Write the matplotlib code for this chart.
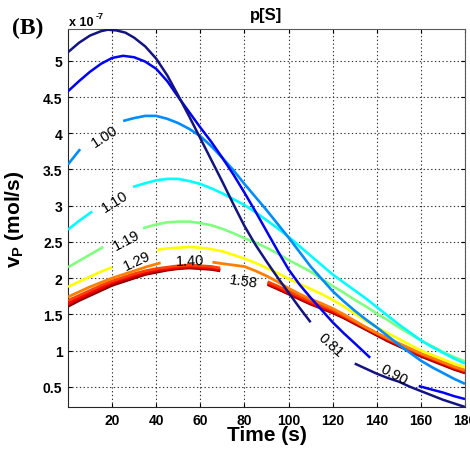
import numpy as np
import matplotlib
matplotlib.use("Agg")
import matplotlib.pyplot as plt

plt.rcParams['font.family'] = ['Liberation Sans', 'DejaVu Sans']
plt.rcParams['mathtext.fontset'] = 'custom'
plt.rcParams['mathtext.bf'] = 'Liberation Sans:bold'
plt.rcParams['mathtext.rm'] = 'Liberation Sans'
plt.rcParams['mathtext.it'] = 'Liberation Sans:italic'

nan = np.nan
# ---- data (v_P in units of 1e-7 mol/s); NaN marks the gap left for a contour label
levels = ['0.81', '0.90', '1.00', '1.10', '1.19', '1.29', '1.40', '1.49', '1.58', '1.68', '1.80']

t_081 = [0, 5, 10, 15, 18, 22, 26, 30, 35, 40, 45, 50, 55, 60, 65, 70, 75, 80, 85, 90, 95, 100, 105, 110,
         120, 130, 135, 140, 145, 150, 155, 160, 165, 170, 175, 180]
v_081 = [5.12, 5.25, 5.35, 5.41, 5.43, 5.42, 5.39, 5.32, 5.20, 5.03, 4.80, 4.52, 4.23, 3.93, 3.63, 3.33, 3.02,
         2.72, 2.46, 2.23, 2.01, 1.80, 1.59, 1.39,
         nan, 0.82, 0.75, 0.68, 0.62, 0.57, 0.50, 0.44, 0.38, 0.32, 0.27, 0.22]

t_090 = [0, 5, 10, 15, 20, 25, 30, 35, 40, 45, 50, 55, 60, 65, 70, 75, 80, 85, 90, 95, 100, 105, 110, 115,
         120, 125, 130, 137, 148, 159, 165, 170, 175, 180]
v_090 = [4.58, 4.72, 4.85, 4.96, 5.04, 5.07, 5.05, 4.99, 4.89, 4.72, 4.50, 4.29, 4.08, 3.88, 3.66, 3.43, 3.18,
         2.92, 2.65, 2.38, 2.12, 1.91, 1.73, 1.56, 1.39, 1.24, 1.10, 0.90, nan, 0.51, 0.46, 0.42, 0.37, 0.33]

t_100 = [0, 5.5, 15, 25, 30, 35, 40, 45, 50, 55, 60, 65, 70, 75, 80, 85, 90, 95, 100, 105, 110, 115, 120,
         125, 130, 135, 140, 145, 150, 155, 160, 165, 170, 175, 180]
v_100 = [3.57, 3.78, nan, 4.17, 4.21, 4.24, 4.24, 4.20, 4.14, 4.06, 3.96, 3.82, 3.66, 3.49, 3.30, 3.12, 2.94,
         2.75, 2.56, 2.36, 2.16, 1.99, 1.82, 1.68, 1.55, 1.43, 1.32, 1.20, 1.08, 0.97, 0.86, 0.77, 0.69,
         0.61, 0.54]

t_110 = [0, 5, 11, 20, 29.5, 35, 40, 45, 50, 55, 60, 65, 70, 75, 80, 85, 90, 95, 100, 105, 110, 115, 120,
         125, 130, 135, 140, 145, 150, 155, 160, 165, 170, 175, 180]
v_110 = [2.67, 2.79, 2.92, nan, 3.26, 3.31, 3.35, 3.37, 3.37, 3.34, 3.30, 3.24, 3.17, 3.09, 3.01, 2.91, 2.80,
         2.69, 2.57, 2.44, 2.31, 2.18, 2.05, 1.94, 1.83, 1.72, 1.60, 1.48, 1.36, 1.25, 1.14, 1.05, 0.97,
         0.89, 0.82]

t_119 = [0, 8, 16, 25, 34, 40, 45, 50, 55, 60, 65, 70, 75, 80, 85, 90, 95, 100, 105, 110, 115, 120, 125,
         130, 135, 140, 145, 150, 155, 160, 165, 170, 175, 180]
v_119 = [2.15, 2.29, 2.43, nan, 2.69, 2.74, 2.77, 2.78, 2.78, 2.76, 2.73, 2.68, 2.62, 2.55, 2.49, 2.42, 2.34,
         2.25, 2.17, 2.09, 1.99, 1.89, 1.80, 1.70, 1.61, 1.51, 1.42, 1.32, 1.23, 1.14, 1.06, 0.98, 0.91,
         0.85]

t_129 = [0, 5, 10, 15, 20, 30, 40.5, 45, 50, 55, 60, 65, 70, 75, 80, 85, 90, 95, 100, 105, 110, 115, 120,
         125, 130, 135, 140, 145, 150, 155, 160, 165, 170, 175, 180]
v_129 = [1.88, 1.95, 2.02, 2.09, 2.15, nan, 2.39, 2.41, 2.42, 2.43, 2.42, 2.40, 2.37, 2.32, 2.27, 2.21, 2.14,
         2.07, 1.99, 1.92, 1.85, 1.78, 1.70, 1.61, 1.51, 1.41, 1.32, 1.24, 1.16, 1.08, 1.00, 0.94, 0.88,
         0.82, 0.77]

t_140 = [0, 5, 10, 15, 20, 25, 30, 36, 42, 55, 65.5, 70, 75, 80, 85, 90, 95, 100, 105, 110, 115, 120, 125,
         130, 135, 140, 145, 150, 155, 160, 165, 170, 175, 180]
v_140 = [1.74, 1.81, 1.88, 1.94, 2.00, 2.05, 2.10, 2.16, 2.21, nan, 2.22, 2.20, 2.18, 2.16, 2.10, 2.03, 1.95,
         1.86, 1.78, 1.71, 1.65, 1.58, 1.50, 1.41, 1.32, 1.24, 1.17, 1.10, 1.03, 0.96, 0.90, 0.84, 0.78,
         0.73]

t_149 = [0, 5, 10, 15, 20, 25, 30, 35, 40, 45, 50, 55, 60, 65, 69, 80, 90.5, 95, 100, 105, 110, 115, 120,
         125, 130, 135, 140, 145, 150, 155, 160, 165, 170, 175, 180]
v_149 = [1.69, 1.76, 1.83, 1.90, 1.96, 2.01, 2.06, 2.10, 2.13, 2.15, 2.17, 2.18, 2.17, 2.16, 2.14, nan, 1.95,
         1.89, 1.82, 1.75, 1.68, 1.62, 1.56, 1.48, 1.40, 1.32, 1.24, 1.16, 1.09, 1.02, 0.95, 0.89, 0.83,
         0.77, 0.72]

t_158 = [0, 5, 10, 15, 20, 25, 30, 35, 40, 45, 50, 55, 60, 65, 69, 80, 90.5, 95, 100, 105, 110, 115, 120,
         125, 130, 135, 140, 145, 150, 155, 160, 165, 170, 175, 180]
v_158 = [1.65, 1.73, 1.80, 1.87, 1.94, 1.99, 2.04, 2.08, 2.11, 2.13, 2.15, 2.16, 2.15, 2.14, 2.12, nan, 1.93,
         1.87, 1.80, 1.73, 1.66, 1.60, 1.54, 1.47, 1.39, 1.31, 1.23, 1.15, 1.08, 1.01, 0.94, 0.88, 0.82,
         0.76, 0.71]

t_168 = [0, 5, 10, 15, 20, 25, 30, 35, 40, 45, 50, 55, 60, 65, 69, 80, 90.5, 95, 100, 105, 110, 115, 120,
         125, 130, 135, 140, 145, 150, 155, 160, 165, 170, 175, 180]
v_168 = [1.63, 1.71, 1.78, 1.85, 1.92, 1.97, 2.02, 2.06, 2.10, 2.12, 2.14, 2.15, 2.14, 2.13, 2.11, nan, 1.92,
         1.86, 1.79, 1.72, 1.65, 1.59, 1.53, 1.46, 1.38, 1.30, 1.22, 1.14, 1.07, 1.00, 0.93, 0.87, 0.81,
         0.75, 0.70]

t_180 = [0, 5, 10, 15, 20, 25, 30, 35, 40, 45, 50, 55, 60, 65, 69, 80, 90.5, 95, 100, 105, 110, 115, 120,
         125, 130, 135, 140, 145, 150, 155, 160, 165, 170, 175, 180]
v_180 = [1.61, 1.69, 1.76, 1.83, 1.90, 1.95, 2.00, 2.05, 2.08, 2.11, 2.13, 2.14, 2.13, 2.12, 2.10, nan, 1.91,
         1.85, 1.78, 1.71, 1.64, 1.58, 1.52, 1.45, 1.37, 1.29, 1.21, 1.13, 1.06, 0.99, 0.92, 0.86, 0.80,
         0.74, 0.69]

series_t = [t_081, t_090, t_100, t_110, t_119, t_129, t_140, t_149, t_158, t_168, t_180]
series_v = [v_081, v_090, v_100, v_110, v_119, v_129, v_140, v_149, v_158, v_168, v_180]

# contour label placements: (text, t, v, rotation)
label_text = ['1.00', '1.10', '1.19', '1.29', '1.40', '1.58', '0.81', '0.90']
label_t = [16.8, 21.4, 26.4, 31.4, 55.5, 79.5, 119.0, 147.7]
label_v = [3.96, 3.07, 2.53, 2.24, 2.24, 1.96, 1.08, 0.68]
label_rot = [33, 32, 28, 25, 2, -8, -42, -28]

xticks = [20, 40, 60, 80, 100, 120, 140, 160, 180]
yticks = [0.5, 1, 1.5, 2, 2.5, 3, 3.5, 4, 4.5, 5]
ytick_labels = ['0.5', '1', '1.5', '2', '2.5', '3', '3.5', '4', '4.5', '5']

colors = [(0.08, 0.08, 0.50), (0.0, 0.0, 0.95), (0.0, 0.55, 1.0), (0.0, 1.0, 1.0),
          (0.5, 1.0, 0.5), (1.0, 1.0, 0.0), (1.0, 0.5, 0.0), (1.0, 0.25, 0.0),
          (1.0, 0.0, 0.0), (0.75, 0.0, 0.0), (0.5, 0.0, 0.0)]
widths = [1.8, 1.8, 1.9, 1.9, 1.9, 1.9, 2.0, 2.0, 2.0, 2.0, 2.0]

fig = plt.figure(figsize=(4.70, 4.52), dpi=100)
ax = fig.add_axes([68/470, 44/452, 397/470, 378/452])

for i in range(len(series_t)):
    ax.plot(series_t[i], series_v[i], color=colors[i], lw=widths[i],
            solid_capstyle='butt', solid_joinstyle='round',
            zorder=3 + (len(series_t) - i) * 0.01)

for s, x, y, r in zip(label_text, label_t, label_v, label_rot):
    ax.text(x, y, s, rotation=r, rotation_mode='anchor', ha='center', va='center',
            fontsize=10.5, color='black', zorder=5)

ax.set_xlim(0, 180)
ax.set_ylim(0.22, 5.44)
ax.set_xticks(xticks)
ax.set_xticklabels([str(x) for x in xticks])
ax.set_yticks(yticks)
ax.set_yticklabels(ytick_labels)
ax.tick_params(direction='in', length=3, width=0.8, labelsize=10, top=True, right=True, pad=4)
for lab in ax.get_xticklabels() + ax.get_yticklabels():
    lab.set_fontweight('bold')
ax.grid(True, color='0.2', linestyle=(0, (1.2, 2.2)), linewidth=0.8)
ax.set_axisbelow(True)
for sp in ax.spines.values():
    sp.set_linewidth(0.8)
    sp.set_color('0.35')
ax.spines['left'].set_color('0.15')
ax.spines['bottom'].set_color('0.15')

ax.set_xlabel('Time (s)', fontsize=15, fontweight='bold')
ax.xaxis.set_label_coords(0.5, -0.048)
ax.set_ylabel(r'$\mathbf{v_P}$ (mol/s)', fontsize=15, fontweight='bold')
ax.yaxis.set_label_coords(-0.105, 0.5)
ax.set_title('p[S]', fontsize=12, fontweight='bold', pad=7)

fig.text(69/470, 1 - 26/452, 'x 10', fontsize=9, fontweight='bold', ha='left', va='baseline')
fig.text(96/470, 1 - 19/452, '-7', fontsize=6.5, fontweight='bold', ha='left', va='baseline')
fig.text(28/470, 1 - 28/452, '(B)', fontsize=17, fontweight='bold', family='Liberation Serif',
         ha='center', va='center')

fig.savefig('out.png', dpi=100)
